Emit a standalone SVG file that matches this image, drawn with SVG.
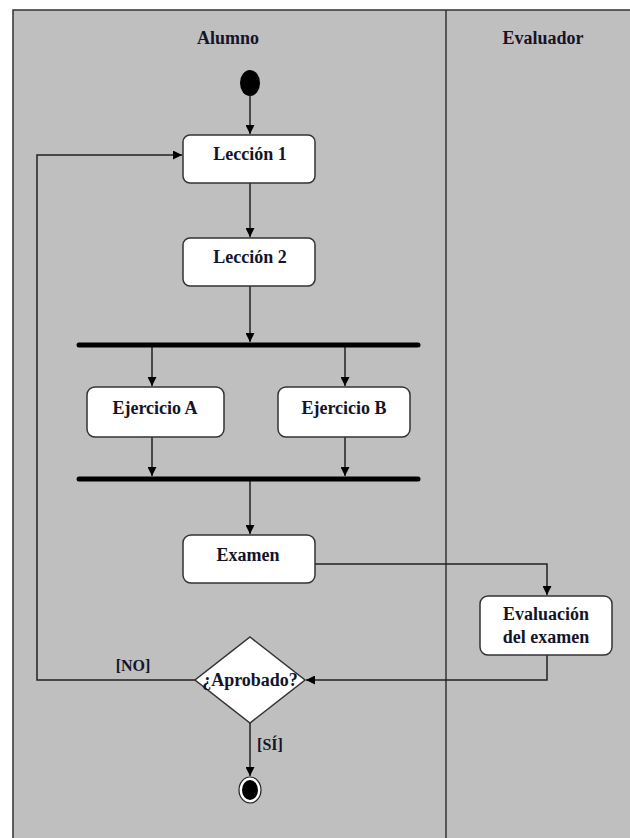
<svg xmlns="http://www.w3.org/2000/svg" width="630" height="838" viewBox="0 0 630 838">
<defs>
<style>
.lane{fill:#bfbfbf;stroke:#333;stroke-width:1.5}
.box{fill:#fff;stroke:#333;stroke-width:1.5}
.t{font-family:"Liberation Serif",serif;font-weight:bold;font-size:18px;fill:#14142a;text-anchor:middle}
.s{font-size:16px}
.c{fill:none;stroke:#222;stroke-width:1.5}
.bar{stroke:#000;stroke-width:5;stroke-linecap:round}
</style>
<marker id="ah" viewBox="0 0 10 10" refX="10" refY="5" markerWidth="9" markerHeight="9" markerUnits="userSpaceOnUse" orient="auto">
<path d="M0,0 L10,5 L0,10 Z" fill="#000"/>
</marker>
</defs>
<g id="lanes">
<rect class="lane" x="13" y="10" width="640" height="840"/>
<line x1="446" y1="10" x2="446" y2="838" stroke="#333" stroke-width="1.5"/>
<text class="t" x="228" y="44">Alumno</text>
<text class="t" x="543" y="44">Evaluador</text>
</g>
<g id="connectors">
<line class="c" x1="250" y1="96" x2="250" y2="134" marker-end="url(#ah)"/>
<line class="c" x1="250" y1="183" x2="250" y2="237" marker-end="url(#ah)"/>
<line class="c" x1="250" y1="286" x2="250" y2="342" marker-end="url(#ah)"/>
<line class="c" x1="152" y1="347" x2="152" y2="386" marker-end="url(#ah)"/>
<line class="c" x1="345" y1="347" x2="345" y2="386" marker-end="url(#ah)"/>
<line class="c" x1="152" y1="437" x2="152" y2="476" marker-end="url(#ah)"/>
<line class="c" x1="345" y1="437" x2="345" y2="476" marker-end="url(#ah)"/>
<line class="c" x1="250" y1="481" x2="250" y2="534" marker-end="url(#ah)"/>
<polyline class="c" points="315,564 547,564 547,595" marker-end="url(#ah)"/>
<polyline class="c" points="547,655 547,680 306,680" marker-end="url(#ah)"/>
<polyline class="c" points="195,680 37,680 37,155 182,155" marker-end="url(#ah)"/>
<line class="c" x1="250" y1="723" x2="250" y2="776" marker-end="url(#ah)"/>
<text class="t s" x="133" y="671">[NO]</text>
<text class="t s" x="270" y="750">[SÍ]</text>
</g>
<g id="start"><ellipse cx="250" cy="83" rx="10" ry="13" fill="#000"/></g>
<g id="leccion1"><rect class="box" x="183" y="135" width="132" height="48" rx="7"/><text class="t" x="250" y="160">Lección 1</text></g>
<g id="leccion2"><rect class="box" x="183" y="238" width="132" height="48" rx="7"/><text class="t" x="250" y="263">Lección 2</text></g>
<g id="fork"><line class="bar" x1="79" y1="345" x2="418" y2="345"/></g>
<g id="ejercicioA"><rect class="box" x="87" y="387" width="137" height="50" rx="8"/><text class="t" x="155" y="414">Ejercicio A</text></g>
<g id="ejercicioB"><rect class="box" x="278" y="387" width="132" height="50" rx="8"/><text class="t" x="344" y="414">Ejercicio B</text></g>
<g id="join"><line class="bar" x1="79" y1="479" x2="418" y2="479"/></g>
<g id="examen"><rect class="box" x="183" y="535" width="132" height="48" rx="8"/><text class="t" x="248" y="561">Examen</text></g>
<g id="evaluacion"><rect class="box" x="480" y="596" width="132" height="59" rx="8"/><text class="t" x="546" y="620">Evaluación</text><text class="t" x="546" y="643">del examen</text></g>
<g id="decision"><polygon class="box" points="250,637 305,680 250,723 195,680"/><text class="t" x="250" y="686">¿Aprobado?</text></g>
<g id="end"><ellipse cx="250" cy="790" rx="11" ry="13" fill="#fff" stroke="#222" stroke-width="1.2"/><ellipse cx="250" cy="790" rx="8" ry="10" fill="#000"/></g>
</svg>
